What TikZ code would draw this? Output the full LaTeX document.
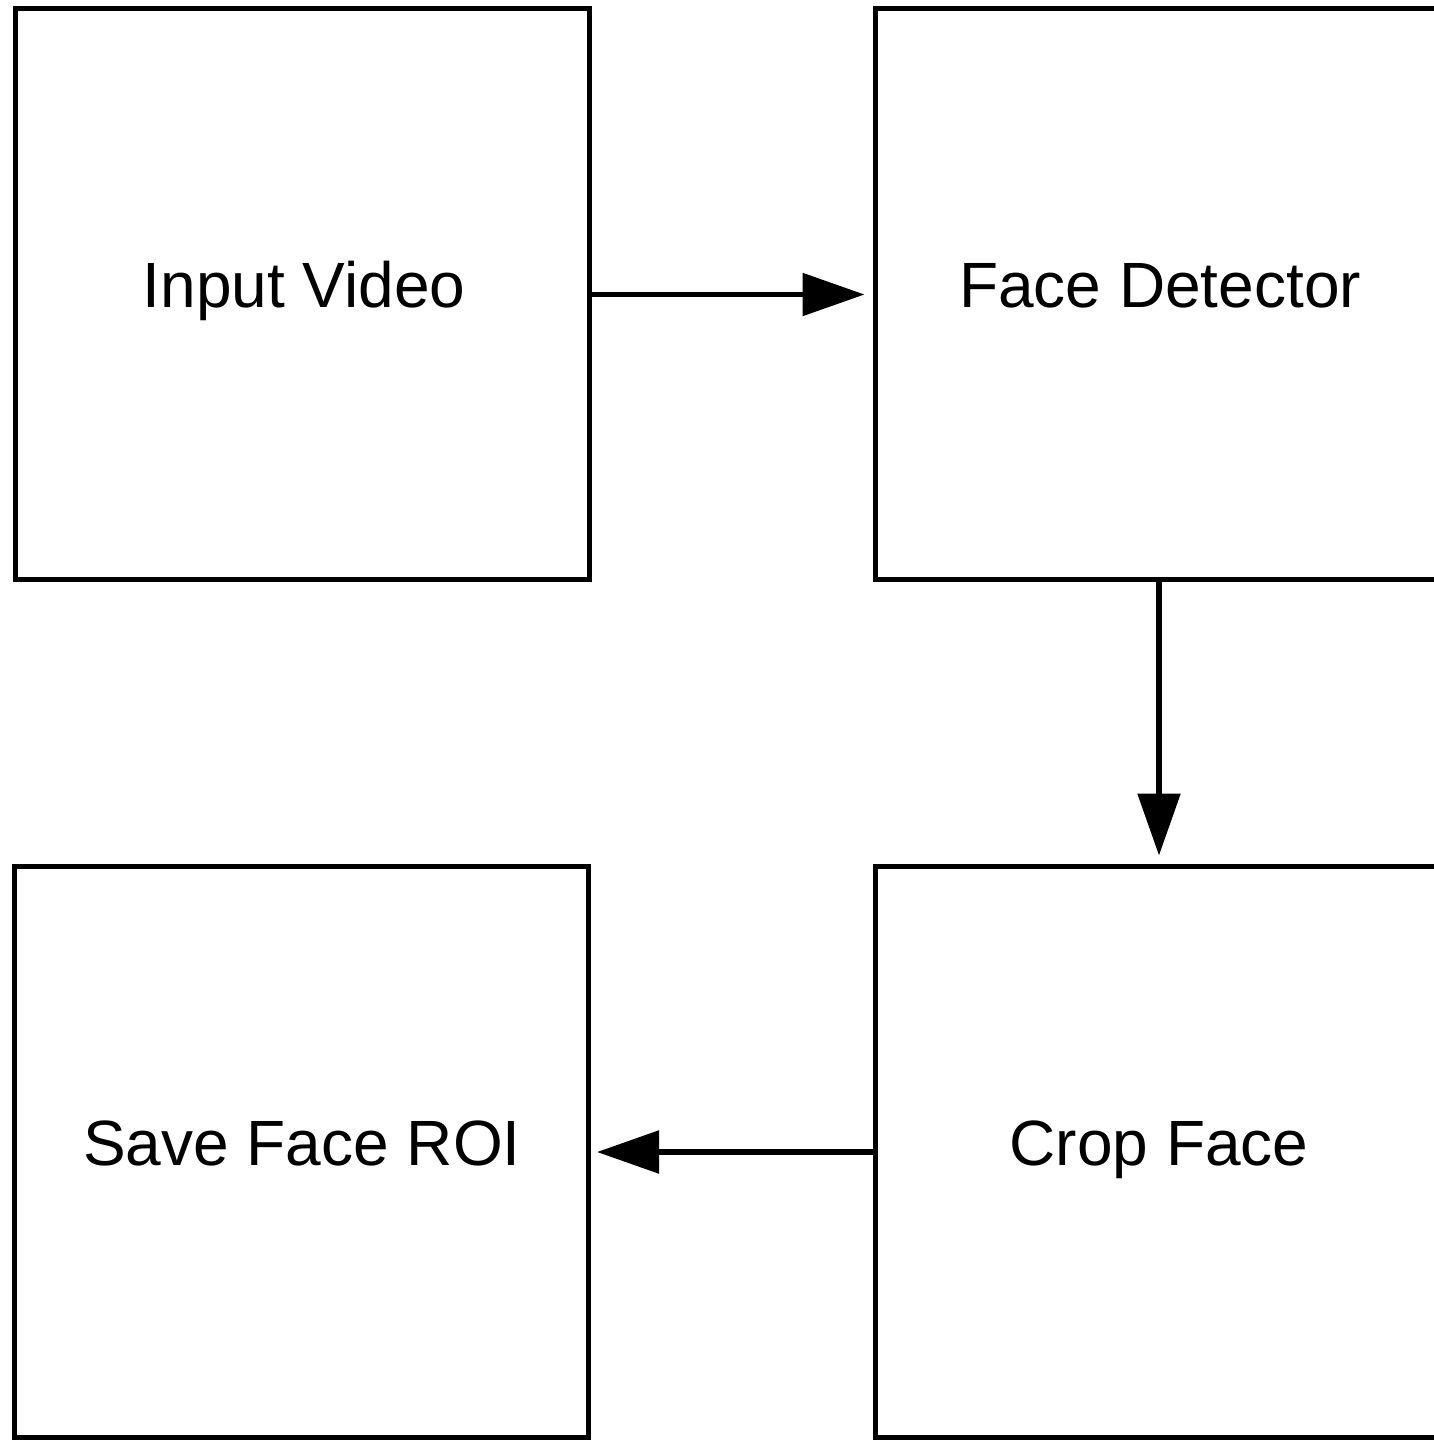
\documentclass[tikz,border=0pt]{standalone}
\usepackage{fontspec}
\setmainfont{Liberation Sans}
\usetikzlibrary{arrows.meta}
\begin{document}
\begin{tikzpicture}[x=1pt,y=-1pt,
  stage/.style={draw=black,line width=5pt,minimum width=574pt,minimum height=571pt,inner sep=0pt},
  caption/.style={anchor=base,inner sep=0pt,font=\fontsize{64}{76}\selectfont},
  flow/.style={draw=black,line width=5.5pt,-{Triangle[length=62pt,width=42pt]}}]
  \useasboundingbox (0,0) rectangle (1433,1440);
  % four processing stages
  \node[stage] (iv) at (302,293.5) {};
  \node[stage] (fd) at (1162,294) {};
  \node[stage] (cf) at (1162,1151.5) {};
  \node[stage] (sf) at (301.5,1151.5) {};
  % stage captions
  \node[caption] (tiv) at (304,307) {Input Video};
  \node[caption] (tfd) at (1160,307) {Face Detector};
  \node[caption] (tcf) at (1159,1165) {Crop Face};
  \node[caption] (tsf) at (302,1165) {Save Face ROI};
  % data flow
  \coordinate (down) at (1159,0);
  \draw[flow,shorten >=8pt] (iv.east |- 0,294.5) -- (fd.west |- 0,294.5);
  \draw[flow,shorten >=8pt] (fd.south -| down) -- (cf.north -| down);
  \draw[flow,shorten >=6pt] (cf.west |- 0,1152) -- (sf.east |- 0,1152);
\end{tikzpicture}
\end{document}
